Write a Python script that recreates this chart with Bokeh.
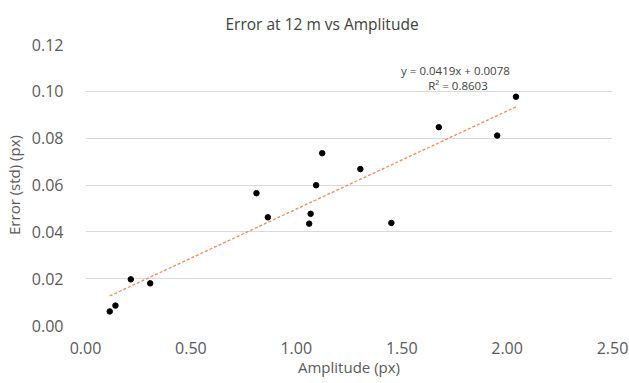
from bokeh.plotting import figure
from bokeh.models import Label, FixedTicker, NumeralTickFormatter, Range1d, ColumnDataSource
from bokeh.embed import file_html
from bokeh.resources import INLINE

# Data
amplitude = [0.115, 0.142, 0.215, 0.307, 0.811, 0.865, 1.061, 1.068, 1.094, 1.123, 1.304, 1.451, 1.676, 1.953, 2.042]
error_std = [0.0060, 0.0085, 0.0197, 0.0180, 0.0565, 0.0462, 0.0435, 0.0477, 0.0599, 0.0736, 0.0668, 0.0438, 0.0847, 0.0811, 0.0977]

trend_slope = 0.0419
trend_intercept = 0.0078
trend_r2 = 0.8603

x_ticks = [0.0, 0.5, 1.0, 1.5, 2.0, 2.5]
y_ticks = [0.0, 0.02, 0.04, 0.06, 0.08, 0.10, 0.12]

FONT = "Open Sans"
TICK_COLOR = "#595959"

p = figure(width=629, height=383, output_backend="svg", toolbar_location=None,
           x_range=Range1d(0, 2.5), y_range=Range1d(0, 0.12),
           min_border_left=82, min_border_right=17, min_border_top=44, min_border_bottom=58)

p.title.text = "Error at 12 m vs Amplitude"
p.title.text_font = FONT
p.title.text_font_size = "15.5px"
p.title.text_font_style = "normal"
p.title.text_color = "#404040"
p.title.align = "left"
p.title.offset = 140
p.title.standoff = 19

p.outline_line_color = None
p.background_fill_color = "white"
p.border_fill_color = "white"

for ax in (p.xaxis[0], p.yaxis[0]):
    ax.axis_line_color = None
    ax.major_tick_line_color = None
    ax.minor_tick_line_color = None
    ax.major_label_text_font = FONT
    ax.major_label_text_font_size = "16px"
    ax.major_label_text_color = TICK_COLOR
    ax.axis_label_text_font = FONT
    ax.axis_label_text_font_size = "15px"
    ax.axis_label_text_font_style = "normal"
    ax.axis_label_text_color = TICK_COLOR
    ax.formatter = NumeralTickFormatter(format="0.00")

p.xaxis[0].ticker = FixedTicker(ticks=x_ticks)
p.yaxis[0].ticker = FixedTicker(ticks=y_ticks)
p.xaxis[0].axis_label = "Amplitude (px)"
p.yaxis[0].axis_label = "Error (std) (px)"
p.xaxis[0].major_label_standoff = 10
p.xaxis[0].axis_label_standoff = 0
p.yaxis[0].major_label_standoff = 16
p.yaxis[0].axis_label_standoff = 5

p.xgrid.grid_line_color = None
p.ygrid.grid_line_color = "#d9d9d9"
p.ygrid.grid_line_width = 1
p.ygrid.ticker = FixedTicker(ticks=y_ticks)

# Trendline
x0, x1 = min(amplitude), max(amplitude)
trend_x = [x0, x1]
trend_y = [trend_slope * x + trend_intercept for x in trend_x]
p.line(trend_x, trend_y, line_color="#F0875A", line_width=1.3, line_dash="3 2")

src = ColumnDataSource(data=dict(x=amplitude, y=error_std))
p.scatter("x", "y", source=src, size=5.5, fill_color="black", line_color="black")

eq1 = Label(x=1.755, y=0.1089, text=f"y = {trend_slope:.4f}x + {trend_intercept:.4f}",
            text_font=FONT, text_font_size="11.5px", text_color="#404040",
            text_align="center", text_baseline="middle")
eq2 = Label(x=1.767, y=0.1025, text=f"R² = {trend_r2:.4f}",
            text_font=FONT, text_font_size="11.5px", text_color="#404040",
            text_align="center", text_baseline="middle")
p.add_layout(eq1)
p.add_layout(eq2)

open("out.html", "w").write(file_html(p, INLINE))
